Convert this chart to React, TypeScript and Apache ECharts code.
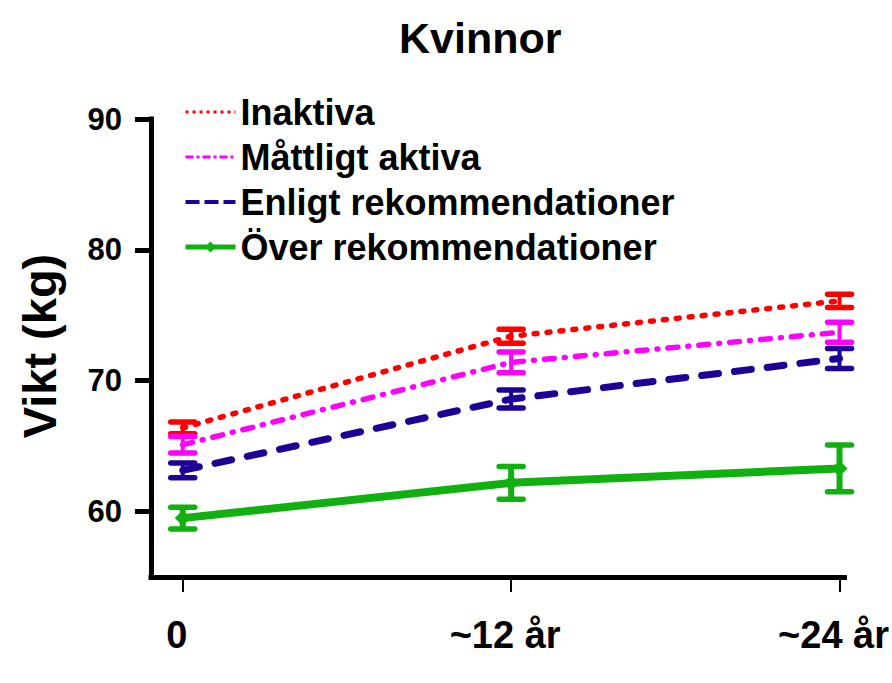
import React, { useEffect, useRef } from "react";
import * as echarts from "echarts";

const timePoints = [0, 12, 24];
const xTickLabels = ["0", "~12 år", "~24 år"];
const yTicks = [60, 70, 80, 90];

const seriesNames = [
  "Inaktiva",
  "Måttligt aktiva",
  "Enligt rekommendationer",
  "Över rekommendationer",
];

const inaktiva = [66.4, 73.4, 76.1];
const inaktivaErr = [0.45, 0.53, 0.5];
const mattligt = [65.1, 71.4, 73.7];
const mattligtErr = [0.63, 0.79, 0.76];
const enligt = [63.15, 68.6, 71.7];
const enligtErr = [0.57, 0.69, 0.76];
const over = [59.5, 62.2, 63.3];
const overErr = [0.83, 1.25, 1.78];

const FONT = '"Liberation Sans", Arial, sans-serif';

export default function App() {
  const ref = useRef<HTMLDivElement>(null);

  useEffect(() => {
    if (!ref.current) return;
    const chart = echarts.init(ref.current, null, { renderer: "svg" });

    const colors = ["#FF0000", "#FF00FF", "#1E0096", "#10B010"];
    const values = [inaktiva, mattligt, enligt, over];
    const errors = [inaktivaErr, mattligtErr, enligtErr, overErr];
    const lineStyles: any[] = [
      { width: 5.5, type: [3, 10], cap: "round" },
      { width: 5.5, type: [10, 10, 1, 10], cap: "round" },
      { width: 7, type: [17, 16], cap: "round" },
      { width: 8, type: "solid" },
    ];
    const legendLineStyles: any[] = [
      { width: 3, type: [3, 4], cap: "butt" },
      { width: 3, type: [8, 3, 3, 3], cap: "butt" },
      { width: 4, type: [14, 5], cap: "butt" },
      { width: 5, type: "solid" },
    ];
    const barWidths = [4, 4, 4, 6];

    const lineSeries = values.map((vals, i) => ({
      name: seriesNames[i],
      type: "line",
      data: timePoints.map((t, j) => [t, vals[j]]),
      symbol: i === 3 ? "diamond" : "none",
      symbolSize: 16,
      showSymbol: i === 3,
      itemStyle: { color: colors[i] },
      lineStyle: { color: colors[i], ...lineStyles[i] },
      z: 3,
    }));

    const errSeries = values.map((vals, i) => ({
      name: seriesNames[i] + " SEM",
      type: "custom",
      data: timePoints.map((t, j) => [t, vals[j], errors[i][j]]),
      z: 4,
      renderItem: (params: any, api: any) => {
        const x = api.value(0);
        const y = api.value(1);
        const e = api.value(2);
        const top = api.coord([x, y + e]);
        const bot = api.coord([x, y - e]);
        const hw = 12;
        const c = colors[i];
        return {
          type: "group",
          children: [
            {
              type: "line",
              shape: { x1: top[0], y1: top[1], x2: bot[0], y2: bot[1] },
              style: { stroke: c, lineWidth: barWidths[i] },
            },
            {
              type: "line",
              shape: { x1: top[0] - hw, y1: top[1], x2: top[0] + hw, y2: top[1] },
              style: { stroke: c, lineWidth: 5.5, lineCap: "round" },
            },
            {
              type: "line",
              shape: { x1: bot[0] - hw, y1: bot[1], x2: bot[0] + hw, y2: bot[1] },
              style: { stroke: c, lineWidth: 5.5, lineCap: "round" },
            },
          ],
        };
      },
    }));

    chart.setOption({
      animation: false,
      backgroundColor: "#ffffff",
      title: {
        text: "Kvinnor",
        left: 399,
        top: 16,
        padding: 0,
        textStyle: {
          fontFamily: FONT,
          fontSize: 43,
          fontWeight: "bold",
          color: "#000",
          lineHeight: 43,
        },
      },
      legend: {
        data: seriesNames.map((n, i) => ({
          name: n,
          itemStyle: { opacity: i === 3 ? 1 : 0 },
          lineStyle: { color: colors[i], ...legendLineStyles[i] },
        })),
        orient: "vertical",
        left: 183,
        top: 94,
        padding: 0,
        itemWidth: 50,
        itemHeight: 14,
        itemGap: 9,
        textStyle: {
          fontFamily: FONT,
          fontSize: 36,
          fontWeight: "bold",
          color: "#000",
          lineHeight: 36,
        },
      },
      grid: { left: 151, right: 44, top: 119, bottom: 106, containLabel: false },
      xAxis: {
        type: "value",
        min: -1.16,
        max: 24.18,
        splitLine: { show: false },
        axisLine: { onZero: false, lineStyle: { color: "#000", width: 5, cap: "square" } },
        axisTick: {
          customValues: timePoints,
          length: 15,
          lineStyle: { color: "#000", width: 2 },
        },
        axisLabel: {
          customValues: timePoints,
          formatter: (v: number) => {
            const idx = timePoints.indexOf(v);
            return idx >= 0 ? xTickLabels[idx] : "";
          },
          margin: 39,
          padding: [0, 12, 0, 0],
          fontFamily: FONT,
          fontSize: 38,
          fontWeight: "bold",
          color: "#000",
        },
      },
      yAxis: {
        type: "value",
        min: 55,
        max: 90,
        splitLine: { show: false },
        axisLine: {
          show: true,
          onZero: false,
          lineStyle: { color: "#000", width: 5, cap: "square" },
        },
        axisTick: {
          show: true,
          customValues: yTicks,
          length: 16,
          lineStyle: { color: "#000", width: 5 },
        },
        axisLabel: {
          customValues: yTicks,
          margin: 29,
          fontFamily: FONT,
          fontSize: 31,
          fontWeight: "bold",
          color: "#000",
        },
      },
      graphic: [
        {
          type: "text",
          x: 39,
          y: 346,
          rotation: Math.PI / 2,
          style: {
            text: "Vikt (kg)",
            fontFamily: FONT,
            fontSize: 47,
            fontWeight: "bold",
            fill: "#000",
            align: "center",
            verticalAlign: "middle",
          },
        },
      ],
      series: [...lineSeries, ...errSeries],
    });

    return () => chart.dispose();
  }, []);

  return (
    <div
      ref={ref}
      style={{ position: "fixed", left: 0, top: 0, width: 892, height: 683 }}
    />
  );
}
